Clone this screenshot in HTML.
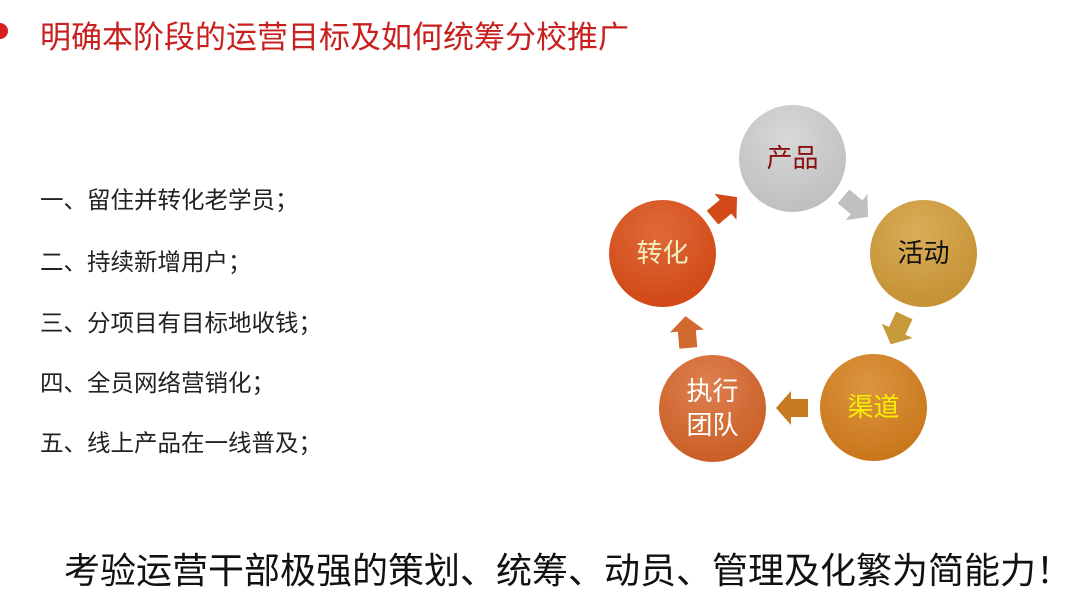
<!DOCTYPE html>
<html><head><meta charset="utf-8"><style>
body{margin:0;width:1080px;height:602px;background:#fff;position:relative;overflow:hidden;font-family:"Liberation Sans","Noto Sans CJK SC",sans-serif;}
.t{position:absolute;white-space:nowrap}
.c{position:absolute;border-radius:50%;display:flex;align-items:center;justify-content:center;text-align:center;font-size:26px;line-height:1.3;}
</style></head><body>
<div style="position:absolute;left:-8px;top:23px;width:16px;height:16px;border-radius:50%;background:#d42020"></div>
<div class="t" style="left:40px;top:12px;font-size:31px;color:#c8201e;">明确本阶段的运营目标及如何统筹分校推广</div>
<div class="t" style="left:40px;top:184px;font-size:23.5px;color:#222;line-height:32px;">一、留住并转化老学员；</div>
<div class="t" style="left:40px;top:246px;font-size:23.5px;color:#222;line-height:32px;">二、持续新增用户；</div>
<div class="t" style="left:40px;top:307px;font-size:23.5px;color:#222;line-height:32px;">三、分项目有目标地收钱；</div>
<div class="t" style="left:40px;top:367px;font-size:23.5px;color:#222;line-height:32px;">四、全员网络营销化；</div>
<div class="t" style="left:40px;top:427px;font-size:23.5px;color:#222;line-height:32px;">五、线上产品在一线普及；</div>
<div class="t" style="left:64px;top:542px;font-size:36px;color:#111;">考验运营干部极强的策划、统筹、动员、管理及化繁为简能力！</div>

<div class="c" style="left:739px;top:105px;width:107px;height:107px;background:radial-gradient(circle at 45% 30%,#d8d8d8,#b8b8b8);color:#8a1010;">产品</div>
<div class="c" style="left:870px;top:200px;width:107px;height:107px;background:radial-gradient(circle at 45% 30%,#d9ad58,#bf8a2a);color:#111;">活动</div>
<div class="c" style="left:820px;top:354px;width:107px;height:107px;background:radial-gradient(circle at 45% 30%,#dc9540,#c46e10);color:#f5f000;">渠道</div>
<div class="c" style="left:659px;top:355px;width:107px;height:107px;background:radial-gradient(circle at 45% 30%,#de8050,#c4561a);color:#fff;">执行<br>团队</div>
<div class="c" style="left:609px;top:200px;width:107px;height:107px;background:radial-gradient(circle at 45% 30%,#e06a3a,#cc3f0c);color:#f2f0c0;">转化</div>

<svg style="position:absolute;left:0;top:0" width="1080" height="602">
<defs><path id="ar" d="M-15,-9 L2,-9 L2,-17 L17,0 L2,17 L2,9 L-15,9 Z"/></defs>
<use href="#ar" fill="#c0c0c0" transform="translate(855,206) rotate(40)"/>
<use href="#ar" fill="#c69a3a" transform="translate(898,329) rotate(115)"/>
<use href="#ar" fill="#c87a20" transform="translate(793,408) rotate(180)"/>
<use href="#ar" fill="#d06a30" transform="translate(687,333) rotate(-95)"/>
<use href="#ar" fill="#d24a18" transform="translate(724,208) rotate(-40)"/>
</svg>
</body></html>
